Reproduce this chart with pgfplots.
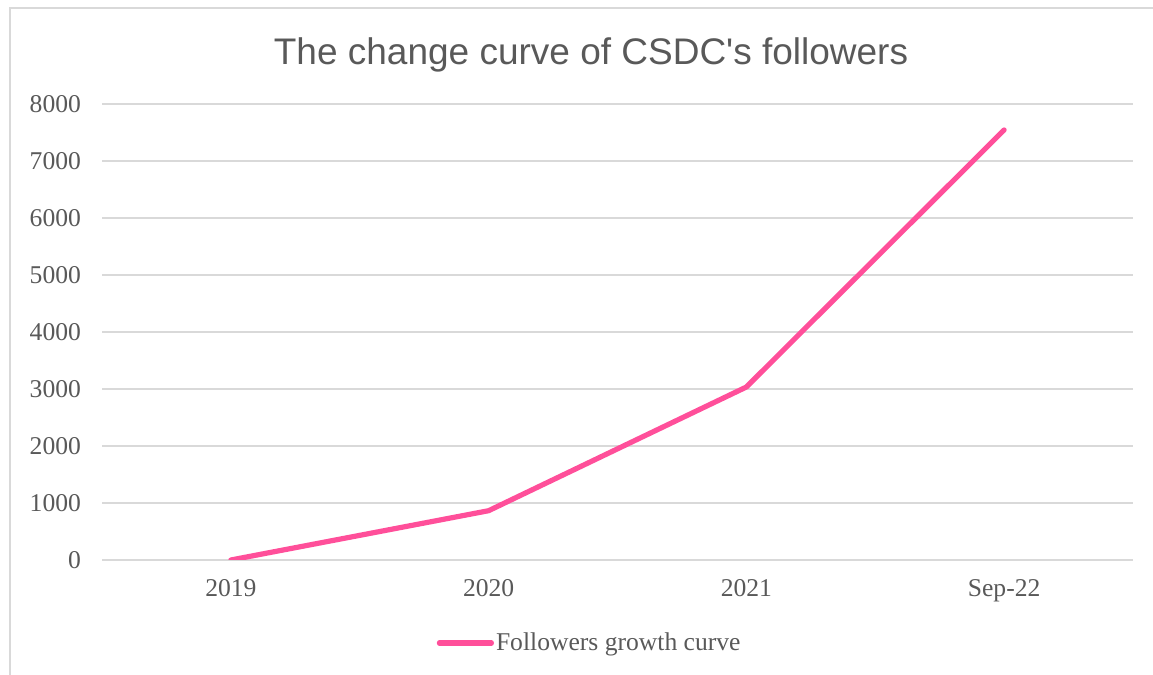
\documentclass[border=0pt]{standalone}
\usepackage{fontspec}
\setmainfont{Liberation Serif}
\newfontfamily\titlefont{Liberation Sans}
\usepackage{pgfplots}
\pgfplotsset{compat=1.18}
\definecolor{pinkline}{RGB}{255,79,154}
\definecolor{txt}{RGB}{89,89,89}
\definecolor{gridc}{RGB}{217,217,217}
\begin{document}
\begin{tikzpicture}[x=0.5pt,y=0.5pt]
\useasboundingbox (0,0) rectangle (1153,675);
\draw[gridc, line width=1pt] (10,0) -- (10,667) -- (1153,667);
\node[font=\titlefont\fontsize{18.5pt}{20pt}\selectfont, text=txt] at (591,620) {The change curve of CSDC's followers};
\begin{axis}[
  at={(51pt,57.5pt)}, anchor=south west,
  scale only axis, width=515.5pt, height=228pt,
  xmin=-0.5, xmax=3.5, ymin=0, ymax=8000,
  xtick={0,1,2,3}, xticklabels={2019,2020,2021,Sep-22},
  ytick={0,1000,...,8000},
  axis line style={draw=none},
  major tick length=0pt,
  ymajorgrids, grid style={gridc, line width=1pt},
  tick label style={font=\fontsize{12.8pt}{14pt}\selectfont, text=txt},
  /pgf/number format/assume math mode=true,
  /pgf/number format/set thousands separator={},
  yticklabel style={xshift=-7pt},
  xticklabel style={yshift=-6pt},
  legend style={at={(0.474,-0.182)}, anchor=center, draw=none, fill=none,
    font=\fontsize{12.8pt}{14pt}\selectfont, text=txt, inner sep=0pt},
  legend image code/.code={\draw[#1, line cap=round] (0pt,0pt) -- (26pt,0pt);},
  legend cell align=left,
]
\addplot[pinkline, line width=2.6pt, line cap=round, line join=round, mark=none]
  coordinates {(0,0) (1,865) (2,3035) (3,7545)};
\addlegendentry{\hspace{-1pt}Followers growth curve}
\end{axis}
\end{tikzpicture}
\end{document}
